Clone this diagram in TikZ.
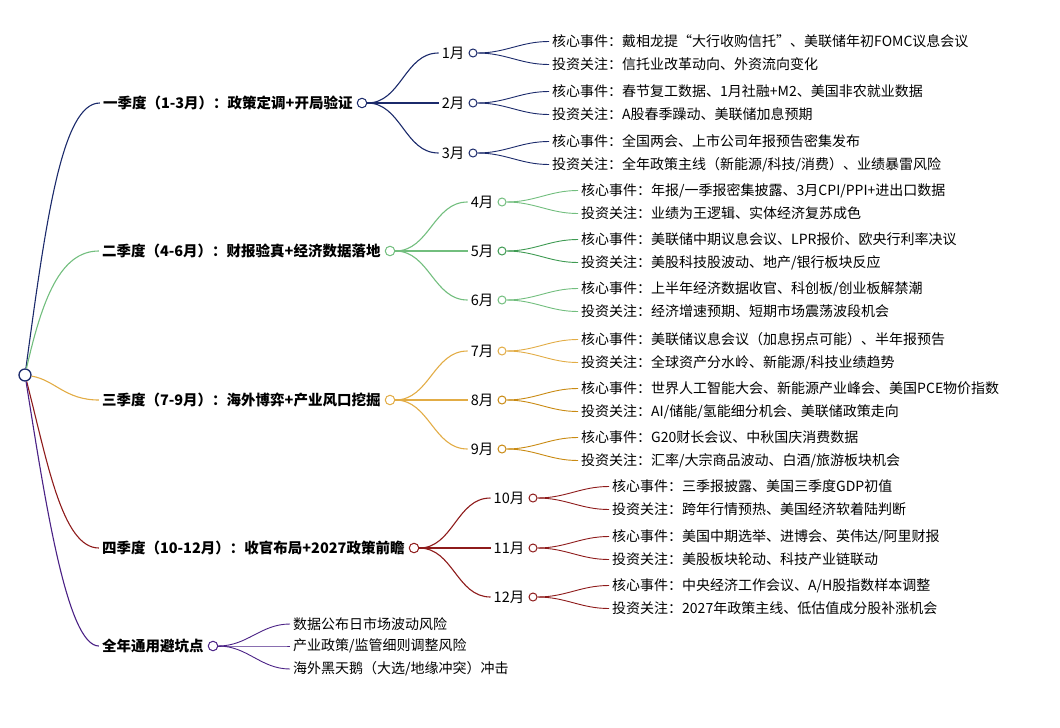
\documentclass[tikz,border=0pt]{standalone}
\usepackage{fontspec}
\setmainfont{Noto Sans CJK SC}
\usepackage{tikz}
\usetikzlibrary{positioning,calc}

\definecolor{qone}{HTML}{1B2A6B}
\definecolor{qtwo}{HTML}{72BE7E}
\definecolor{qtwodk}{HTML}{3E9A52}
\definecolor{qthree}{HTML}{E2AC45}
\definecolor{qthreedk}{HTML}{C98A12}
\definecolor{qfour}{HTML}{8E1B1B}
\definecolor{avoid}{HTML}{4A2185}

% one month: circle, label, two leaves and their twigs
\newcommand{\monthblock}[8]{%
  \node[dot, draw=#6] (#1c) at (#3,#4) {};
  \node[mon, left=1pt of #1c] (#1) {#2};
  \node[leaf] (#1a) at (#5,#4-11.5) {核心事件：#7};
  \node[leaf] (#1b) at (#5,#4+11.5) {投资关注：#8};
  \draw[twig, #6] (#1c) to[out=0,in=180] (#1a.west);
  \draw[twig, #6] (#1c) to[out=0,in=180] (#1b.west);
}

\begin{document}
\begin{tikzpicture}[
    x=1pt, y=-1pt,
    dot/.style={draw, circle, fill=white, inner sep=0pt, minimum size=8pt, line width=1pt},
    bigdot/.style={dot, minimum size=9.5pt},
    quarter/.style={inner xsep=3pt, inner ysep=1pt, font=\fontsize{14.5}{16}\selectfont\bfseries},
    mon/.style={inner xsep=3pt, inner ysep=1pt, font=\fontsize{14.5}{16}\selectfont},
    leaf/.style={anchor=west, inner xsep=3pt, inner ysep=1pt, font=\fontsize{14}{16}\selectfont},
    bough/.style={line width=1.1pt},
    twig/.style={line width=0.9pt}
]
    \useasboundingbox (0,0) rectangle (1060,728);

    % Root
    \node[dot, minimum size=12pt, line width=1.3pt, draw=qone] (root) at (25,375) {};

    % Quarters
    \node[bigdot, draw=qone] (q1c) at (362,103) {};
    \node[quarter, left=1pt of q1c] (q1) {一季度（1-3月）：政策定调+开局验证};
    \node[bigdot, draw=qtwo] (q2c) at (390,251) {};
    \node[quarter, left=1pt of q2c] (q2) {二季度（4-6月）：财报验真+经济数据落地};
    \node[bigdot, draw=qthree] (q3c) at (390,400) {};
    \node[quarter, left=1pt of q3c] (q3) {三季度（7-9月）：海外博弈+产业风口挖掘};
    \node[bigdot, draw=qfour] (q4c) at (414,548) {};
    \node[quarter, left=1pt of q4c] (q4) {四季度（10-12月）：收官布局+2027政策前瞻};
    \node[bigdot, draw=avoid] (avc) at (213,646) {};
    \node[quarter, left=1pt of avc] (av) {全年通用避坑点};

    \draw[bough, qone] (root) .. controls (46,220) and (62,103) .. (q1.west);
    \draw[bough, qtwo] (root) .. controls (42,300) and (60,251) .. (q2.west);
    \draw[bough, qthree] (root) .. controls (55,380) and (65,400) .. (q3.west);
    \draw[bough, qfour] (root) .. controls (47,460) and (62,548) .. (q4.west);
    \draw[bough, avoid] (root) .. controls (45,500) and (67,646) .. (av.west);

    % Q1
    \monthblock{m1}{1月}{473}{53}{549}{qone}{戴相龙提“大行收购信托”、美联储年初FOMC议息会议}{信托业改革动向、外资流向变化}
    \monthblock{m2}{2月}{473}{103}{549}{qone}{春节复工数据、1月社融+M2、美国非农就业数据}{A股春季躁动、美联储加息预期}
    \monthblock{m3}{3月}{473}{153}{549}{qone}{全国两会、上市公司年报预告密集发布}{全年政策主线（新能源/科技/消费）、业绩暴雷风险}
    \foreach \m in {m1,m2,m3}
        \draw[bough, qone] (q1c) to[out=0,in=180] (\m.west);

    % Q2
    \monthblock{m4}{4月}{502}{202}{578}{qtwo}{年报/一季报密集披露、3月CPI/PPI+进出口数据}{业绩为王逻辑、实体经济复苏成色}
    \monthblock{m5}{5月}{502}{251}{578}{qtwodk}{美联储中期议息会议、LPR报价、欧央行利率决议}{美股科技股波动、地产/银行板块反应}
    \monthblock{m6}{6月}{502}{300}{578}{qtwo}{上半年经济数据收官、科创板/创业板解禁潮}{经济增速预期、短期市场震荡波段机会}
    \foreach \m in {m4,m5,m6}
        \draw[bough, qtwo] (q2c) to[out=0,in=180] (\m.west);

    % Q3
    \monthblock{m7}{7月}{502}{351}{578}{qthree}{美联储议息会议（加息拐点可能）、半年报预告}{全球资产分水岭、新能源/科技业绩趋势}
    \monthblock{m8}{8月}{502}{400}{578}{qthreedk}{世界人工智能大会、新能源产业峰会、美国PCE物价指数}{AI/储能/氢能细分机会、美联储政策走向}
    \monthblock{m9}{9月}{502}{449}{578}{qthreedk}{G20财长会议、中秋国庆消费数据}{汇率/大宗商品波动、白酒/旅游板块机会}
    \foreach \m in {m7,m8,m9}
        \draw[bough, qthree] (q3c) to[out=0,in=180] (\m.west);

    % Q4
    \monthblock{m10}{10月}{533}{498}{609}{qfour}{三季报披露、美国三季度GDP初值}{跨年行情预热、美国经济软着陆判断}
    \monthblock{m11}{11月}{533}{548}{609}{qfour}{美国中期选举、进博会、英伟达/阿里财报}{美股板块轮动、科技产业链联动}
    \monthblock{m12}{12月}{533}{597}{609}{qfour}{中央经济工作会议、A/H股指数样本调整}{2027年政策主线、低估值成分股补涨机会}
    \foreach \m in {m10,m11,m12}
        \draw[bough, qfour] (q4c) to[out=0,in=180] (\m.west);

    % Pitfalls
    \node[leaf] (r1) at (290,624) {数据公布日市场波动风险};
    \node[leaf] (r2) at (290,646) {产业政策/监管细则调整风险};
    \node[leaf] (r3) at (290,669) {海外黑天鹅（大选/地缘冲突）冲击};
    \foreach \r in {r1,r2,r3}
        \draw[twig, avoid] (avc) to[out=0,in=180] (\r.west);
\end{tikzpicture}
\end{document}
